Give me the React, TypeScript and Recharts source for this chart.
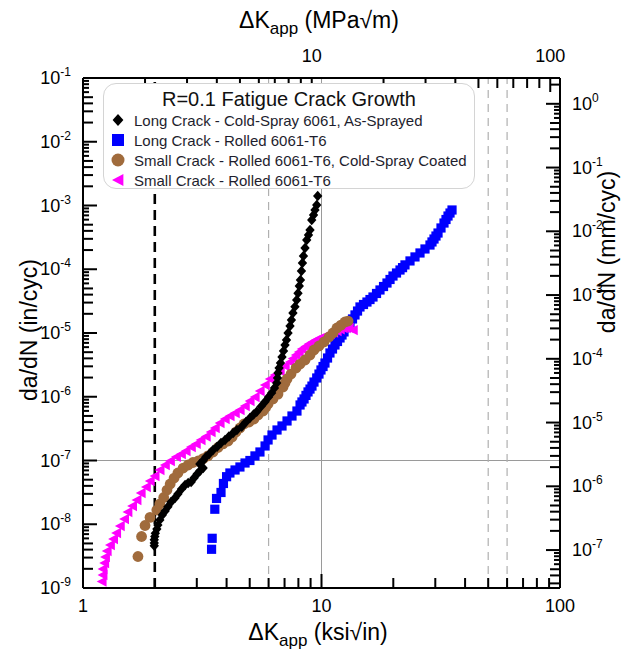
import React from "react";
import { ScatterChart, Scatter, XAxis, YAxis, ReferenceLine } from "recharts";

const FONT = "'Liberation Sans', Arial, Helvetica, sans-serif";

// [ΔK_app (ksi√in), da/dN (in/cyc)]
const longCrackColdSpray: [number, number][] = [
  [1.99, 4.6e-9], [1.99, 5.1e-9], [1.99, 5.7e-9], [2.0, 6.4e-9], [2.01, 7.2e-9], [2.04, 8.4e-9],
  [2.06, 9.7e-9], [2.1, 1.17e-8], [2.15, 1.4e-8], [2.21, 1.61e-8], [2.27, 1.88e-8], [2.34, 2.23e-8],
  [2.43, 2.58e-8], [2.5, 2.98e-8], [2.59, 3.57e-8], [2.68, 4.13e-8], [2.76, 4.44e-8], [2.84, 4.6e-8],
  [2.92, 5.31e-8], [3.01, 6.14e-8], [3.09, 6.84e-8], [3.19, 7.62e-8], [3.09, 8.81e-8], [3.19, 1.0e-7],
  [3.28, 1.14e-7], [3.38, 1.26e-7], [3.51, 1.46e-7], [3.65, 1.64e-7], [3.79, 1.88e-7], [3.94, 2.1e-7],
  [4.09, 2.38e-7], [4.26, 2.7e-7], [4.42, 3.01e-7], [4.63, 3.39e-7], [4.82, 4.02e-7], [5.01, 4.65e-7],
  [5.19, 5.27e-7], [5.35, 5.82e-7], [5.58, 7.03e-7], [5.8, 8.36e-7], [6.0, 9.91e-7], [6.18, 1.15e-6],
  [6.35, 1.37e-6], [6.49, 1.64e-6], [6.54, 1.97e-6], [6.57, 2.36e-6], [6.64, 2.82e-6], [6.73, 3.38e-6],
  [6.83, 4.2e-6], [6.93, 5.22e-6], [7.03, 6.49e-6], [7.13, 7.77e-6], [7.24, 1.0e-5], [7.38, 1.29e-5],
  [7.48, 1.6e-5], [7.59, 2.06e-5], [7.74, 2.59e-5], [7.87, 3.3e-5], [7.97, 4.2e-5], [8.07, 5.46e-5],
  [8.16, 6.78e-5], [8.24, 9.39e-5], [8.32, 1.25e-4], [8.4, 1.61e-4], [8.53, 2.15e-4], [8.67, 2.88e-4],
  [8.82, 3.44e-4], [8.95, 4.13e-4], [9.1, 5.93e-4], [9.26, 7.1e-4], [9.39, 8.5e-4], [9.55, 1.02e-3],
  [9.64, 1.41e-3],
];

const longCrackRolled: [number, number][] = [
  [3.46, 4.05e-9], [3.48, 6.02e-9], [3.57, 1.72e-8], [3.63, 2.54e-8], [3.79, 3.15e-8], [3.88, 4.36e-8],
  [4.0, 5.57e-8], [4.13, 6.37e-8], [4.34, 7.1e-8], [4.55, 7.91e-8], [4.78, 9.14e-8], [5.01, 1.0e-7],
  [5.26, 1.18e-7], [5.52, 1.36e-7], [5.8, 1.69e-7], [5.97, 2.1e-7], [6.2, 2.51e-7], [6.51, 3.01e-7],
  [6.83, 3.48e-7], [7.17, 4.17e-7], [7.52, 4.99e-7], [7.89, 5.97e-7], [8.13, 7.43e-7], [8.28, 8.28e-7],
  [8.45, 9.23e-7], [8.61, 1.05e-6], [8.78, 1.19e-6], [8.95, 1.32e-6], [9.12, 1.47e-6], [9.3, 1.7e-6],
  [9.55, 1.97e-6], [9.76, 2.27e-6], [9.95, 2.63e-6], [10.15, 2.98e-6], [10.34, 3.38e-6], [10.6, 4.05e-6],
  [10.85, 4.86e-6], [11.12, 5.61e-6], [11.39, 6.49e-6], [11.67, 7.36e-6], [11.96, 8.36e-6], [12.19, 9.3e-6],
  [12.43, 1.04e-5], [12.79, 1.22e-5], [13.17, 1.44e-5], [13.49, 1.66e-5], [13.82, 1.92e-5], [14.16, 2.21e-5],
  [14.5, 2.56e-5], [15.0, 2.8e-5], [15.51, 3.06e-5], [15.97, 3.35e-5], [16.44, 3.67e-5], [17.01, 4.17e-5],
  [17.59, 4.73e-5], [18.2, 5.36e-5], [18.82, 6.08e-5], [19.38, 6.91e-5], [19.94, 7.83e-5], [20.63, 8.73e-5],
  [21.34, 9.73e-5], [21.87, 1.06e-4], [22.39, 1.17e-4], [23.5, 1.35e-4], [24.66, 1.56e-4], [25.88, 1.8e-4],
  [27.16, 2.08e-4], [28.5, 2.4e-4], [29.06, 2.68e-4], [29.63, 2.98e-4], [30.2, 3.32e-4], [30.8, 3.7e-4],
  [31.7, 4.44e-4], [32.63, 5.31e-4], [33.27, 6.03e-4], [33.92, 6.84e-4], [34.58, 7.62e-4], [35.26, 8.5e-4],
];

const smallCrackCoated: [number, number][] = [
  [1.7, 3.12e-9], [1.76, 6.43e-9], [1.82, 9.55e-9], [1.91, 1.28e-8], [2.04, 1.67e-8], [2.1, 2.08e-8],
  [2.18, 2.63e-8], [2.25, 3.44e-8], [2.32, 4.28e-8], [2.41, 5.31e-8], [2.5, 6.37e-8], [2.63, 7.62e-8],
  [2.76, 8.5e-8], [2.89, 9.31e-8], [3.04, 9.82e-8], [3.19, 1.07e-7], [3.34, 1.18e-7], [3.51, 1.36e-7],
  [3.68, 1.6e-7], [3.86, 1.82e-7], [4.06, 2.02e-7], [4.22, 2.34e-7], [4.38, 2.8e-7], [4.55, 3.24e-7],
  [4.73, 3.74e-7], [4.97, 4.02e-7], [5.21, 4.48e-7], [5.42, 5.18e-7], [5.69, 5.97e-7], [5.83, 6.78e-7],
  [5.97, 7.69e-7], [6.26, 9.23e-7], [6.57, 1.1e-6], [6.9, 1.42e-6], [7.03, 1.64e-6], [7.17, 1.9e-6],
  [7.45, 2.27e-6], [7.82, 2.82e-6], [8.13, 3.26e-6], [8.53, 3.77e-6], [8.95, 4.52e-6], [9.3, 5.41e-6],
  [9.76, 6.25e-6], [10.24, 7.23e-6], [10.75, 8.65e-6], [11.17, 1.0e-5], [11.61, 1.2e-5], [12.07, 1.33e-5],
  [12.54, 1.49e-5], [12.92, 1.54e-5],
];

const smallCrackRolled: [number, number][] = [
  [1.2, 1.26e-9], [1.21, 1.6e-9], [1.21, 1.99e-9], [1.23, 2.47e-9], [1.24, 3.06e-9], [1.26, 3.8e-9],
  [1.3, 4.73e-9], [1.34, 5.87e-9], [1.38, 7.29e-9], [1.43, 9.39e-9], [1.49, 1.21e-8], [1.54, 1.56e-8],
  [1.61, 1.93e-8], [1.68, 2.4e-8], [1.75, 3.09e-8], [1.84, 3.84e-8], [1.91, 4.77e-8], [2.0, 5.71e-8],
  [2.1, 7.1e-8], [2.21, 8.5e-8], [2.32, 9.82e-8], [2.46, 1.14e-7], [2.58, 1.26e-7], [2.7, 1.41e-7],
  [2.84, 1.63e-7], [2.98, 1.82e-7], [3.12, 2.1e-7], [3.28, 2.38e-7], [3.44, 2.8e-7], [3.58, 3.24e-7],
  [3.75, 3.88e-7], [3.94, 4.48e-7], [4.13, 4.99e-7], [4.34, 5.56e-7], [4.55, 6.2e-7], [4.78, 7.16e-7],
  [5.01, 8.57e-7], [5.26, 9.91e-7], [5.52, 1.23e-6], [5.8, 1.53e-6], [6.08, 1.9e-6], [6.38, 2.19e-6],
  [6.7, 2.54e-6], [7.03, 3.04e-6], [7.38, 3.51e-6], [7.59, 3.98e-6], [7.82, 4.52e-6], [8.05, 5.04e-6],
  [8.28, 5.61e-6], [8.57, 6.14e-6], [8.86, 6.72e-6], [9.17, 7.23e-6], [9.48, 7.77e-6], [9.81, 8.2e-6],
  [10.15, 8.65e-6], [10.49, 9.14e-6], [10.85, 9.64e-6], [11.23, 1.02e-5], [11.61, 1.07e-5], [11.96, 1.14e-5],
  [12.31, 1.2e-5], [12.67, 1.2e-5], [13.04, 1.2e-5], [13.56, 1.11e-5],
];

const LEGEND_TITLE = "R=0.1 Fatigue Crack Growth";
const SERIES_NAMES = [
  "Long Crack - Cold-Spray 6061, As-Sprayed",
  "Long Crack - Rolled 6061-T6",
  "Small Crack - Rolled 6061-T6, Cold-Spray Coated",
  "Small Crack - Rolled 6061-T6",
];
const COLORS = ["#000000", "#0000ff", "#a06b3c", "#ff00ff"];

const KSI_DOMAIN: [number, number] = [1, 100];
const RATE_DOMAIN: [number, number] = [1e-9, 1e-1];
const KSI_TO_MPA = 1.0988;
const IN_TO_MM = 25.4;
const GREY_DASHED_K = [6, 50, 60];

// every 1..9 x 10^n value inside [lo, hi]
const logTicks = (lo: number, hi: number) => {
  const out: number[] = [];
  for (let e = Math.floor(Math.log10(lo)); e <= Math.ceil(Math.log10(hi)); e++) {
    for (let m = 1; m < 10; m++) {
      const v = m * Math.pow(10, e);
      if (v >= lo * 0.999 && v <= hi * 1.001) out.push(v);
    }
  }
  return out;
};

const expOf = (v: number) => Math.floor(Math.log10(v) + 1e-9);
const mantOf = (v: number) => Math.round(v / Math.pow(10, expOf(v)));
const isDecade = (v: number) => mantOf(v) === 1;

const KSI_TICKS = logTicks(KSI_DOMAIN[0], KSI_DOMAIN[1]);
const MPA_TICKS = logTicks(KSI_DOMAIN[0] * KSI_TO_MPA, KSI_DOMAIN[1] * KSI_TO_MPA);
const IN_TICKS = logTicks(RATE_DOMAIN[0], RATE_DOMAIN[1]);
const MM_TICKS = logTicks(RATE_DOMAIN[0] * IN_TO_MM, RATE_DOMAIN[1] * IN_TO_MM);

const toPoints = (rows: [number, number][]) => rows.map(([k, r]) => ({ k, r }));

const xTickLen = (v: number) => (isDecade(v) ? 14 : 10);
const yTickLen = (v: number) => {
  const m = mantOf(v);
  return m === 1 ? 14 : m <= 5 ? 10 : 6;
};
const TW = 2;

// tick marks sit on the frame edges, in data units, and point inward
const bottomTicks = KSI_TICKS.map((k) => ({ k, r: RATE_DOMAIN[0], len: xTickLen(k), side: "b" }));
const topTicks = MPA_TICKS.map((m) => ({ k: m / KSI_TO_MPA, r: RATE_DOMAIN[1], len: xTickLen(m), side: "t" }));
const leftTicks = IN_TICKS.map((r) => ({ k: KSI_DOMAIN[0], r, len: yTickLen(r), side: "l" }));
const rightTicks = MM_TICKS.map((mm) => ({ k: KSI_DOMAIN[1], r: mm / IN_TO_MM, len: yTickLen(mm), side: "r" }));
const TICK_MARKS = [...bottomTicks, ...topTicks, ...leftTicks, ...rightTicks];

const TickMark = ({ cx, cy, payload }: any) => {
  const { len, side } = payload;
  if (side === "b") return <rect x={cx - TW / 2} y={cy - len} width={TW} height={len} fill="#000" />;
  if (side === "t") return <rect x={cx - TW / 2} y={cy} width={TW} height={len} fill="#000" />;
  if (side === "l") return <rect x={cx} y={cy - TW / 2} width={len} height={TW} fill="#000" />;
  return <rect x={cx - len} y={cy - TW / 2} width={len} height={TW} fill="#000" />;
};

const Pow10 = ({ x, y, e, anchor }: any) => (
  <text x={x} y={y} textAnchor={anchor} fontFamily={FONT} fontSize={18} fill="#000">
    <tspan>10</tspan>
    <tspan dy={-8} fontSize={12}>{e}</tspan>
  </text>
);

// tick labels for the ksi / in axes
const LeftLabel = (p: any) => <Pow10 x={p.x - 12} y={p.y + 6} e={expOf(p.payload.value)} anchor="end" />;
const BottomLabel = (p: any) => (
  <text x={p.x} y={p.y + 24} textAnchor="middle" fontFamily={FONT} fontSize={18} fill="#000">
    {Math.round(p.payload.value)}
  </text>
);

// MPa√m and mm/cyc labels, placed from the reference line's pixel ends
const topLabel = (v: number) => (p: any) => (
  <text x={p.x1} y={Math.min(p.y1, p.y2) - 16} textAnchor="middle" fontFamily={FONT} fontSize={18} fill="#000">
    {Math.round(v)}
  </text>
);
const rightLabel = (v: number) => (p: any) => (
  <Pow10 x={Math.max(p.x1, p.x2) + 12} y={p.y1 + 6} e={expOf(v)} anchor="start" />
);

const DeltaK = ({ x, y, unit }: any) => (
  <text x={x} y={y} textAnchor="middle" fontFamily={FONT} fontSize={23} fill="#000">
    <tspan>ΔK</tspan>
    <tspan dy={6} fontSize={17}>app</tspan>
    <tspan dy={-6}>{` (${unit})`}</tspan>
  </text>
);

const RateTitle = ({ cx, cy, unit }: any) => (
  <text
    x={cx}
    y={cy + 8}
    transform={`rotate(-90, ${cx}, ${cy})`}
    textAnchor="middle"
    fontFamily={FONT}
    fontSize={23}
    fill="#000"
  >
    {`da/dN (${unit})`}
  </text>
);

const Diamond = ({ cx, cy, size = 5.2, fill }: any) => (
  <path d={`M${cx},${cy - size} L${cx + size * 0.9},${cy} L${cx},${cy + size} L${cx - size * 0.9},${cy} Z`} fill={fill} />
);
const Square = ({ cx, cy, size = 4.6, fill }: any) => (
  <rect x={cx - size} y={cy - size} width={size * 2} height={size * 2} fill={fill} />
);
const Dot = ({ cx, cy, size = 5.4, fill }: any) => <circle cx={cx} cy={cy} r={size} fill={fill} />;
const LeftTriangle = ({ cx, cy, size = 5.2, fill }: any) => (
  <path d={`M${cx - size},${cy} L${cx + size * 0.9},${cy - size} L${cx + size * 0.9},${cy + size} Z`} fill={fill} />
);

const MARKERS = [Diamond, Square, Dot, LeftTriangle];

const FrameLegend = () => (
  <div
    style={{
      position: "absolute",
      left: 103,
      top: 83,
      width: 372,
      height: 106,
      border: "1px solid #d4d4d4",
      borderRadius: 13,
      background: "#fff",
      fontFamily: FONT,
      boxSizing: "border-box",
    }}
  >
    <div style={{ position: "absolute", left: 0, right: 0, top: 3, textAlign: "center", fontSize: 20, lineHeight: "24px", color: "#111" }}>
      {LEGEND_TITLE}
    </div>
    {SERIES_NAMES.map((name, i) => {
      const M = MARKERS[i];
      return (
        <div key={name} style={{ position: "absolute", left: 5, top: 26 + i * 20, height: 20, display: "flex", alignItems: "center" }}>
          <svg width={18} height={18} style={{ marginRight: 7 }}>
            <M cx={9} cy={9} size={i === 2 ? 6.5 : 6} fill={COLORS[i]} />
          </svg>
          <span style={{ fontSize: 15, color: "#1e1e2e", whiteSpace: "nowrap" }}>{name}</span>
        </div>
      );
    })}
  </div>
);

const SERIES = [longCrackRolled, smallCrackRolled, smallCrackCoated, longCrackColdSpray];
const SERIES_INDEX = [1, 3, 2, 0];

const axisLine = { stroke: "#000", strokeWidth: 2 };
const logAxis = {
  type: "number" as const,
  scale: "log" as const,
  allowDataOverflow: true,
  interval: 0 as const,
  tickLine: false,
  tickSize: 0,
  tickMargin: 0,
  axisLine,
};

export default function App() {
  return (
    <div style={{ position: "absolute", left: 0, top: 0, width: 628, height: 652, background: "#fff" }}>
      <ScatterChart width={628} height={652} margin={{ top: 0, right: 0, bottom: 0, left: 0 }}>
        <XAxis
          {...logAxis}
          xAxisId="ksi"
          dataKey="k"
          domain={KSI_DOMAIN}
          ticks={KSI_TICKS.filter(isDecade)}
          tick={<BottomLabel />}
          height={64}
          label={{ content: () => <DeltaK x={318} y={640} unit="ksi√in" /> }}
        />
        <XAxis
          {...logAxis}
          xAxisId="mpa"
          orientation="top"
          domain={KSI_DOMAIN}
          tick={false}
          height={78}
          label={{ content: () => <DeltaK x={319} y={28} unit="MPa√m" /> }}
        />
        <YAxis
          {...logAxis}
          yAxisId="in"
          dataKey="r"
          domain={RATE_DOMAIN}
          ticks={IN_TICKS.filter(isDecade)}
          tick={<LeftLabel />}
          width={83}
          label={{ content: () => <RateTitle cx={29} cy={330} unit="in/cyc" /> }}
        />
        <YAxis
          {...logAxis}
          yAxisId="mm"
          orientation="right"
          domain={RATE_DOMAIN}
          tick={false}
          width={68}
          label={{ content: () => <RateTitle cx={607} cy={252} unit="mm/cyc" /> }}
        />

        <ReferenceLine xAxisId="ksi" yAxisId="in" x={10} stroke="#9a9a9a" strokeWidth={1} />
        <ReferenceLine xAxisId="ksi" yAxisId="in" y={1e-7} stroke="#9a9a9a" strokeWidth={1} />
        {GREY_DASHED_K.map((k) => (
          <ReferenceLine key={`g${k}`} xAxisId="ksi" yAxisId="in" x={k} stroke="#b0b0b0" strokeWidth={1.2} strokeDasharray="8 6" />
        ))}
        <ReferenceLine xAxisId="ksi" yAxisId="in" x={2} stroke="#000" strokeWidth={2.6} strokeDasharray="10 6" />

        {MPA_TICKS.filter(isDecade).map((m) => (
          <ReferenceLine key={`t${m}`} xAxisId="ksi" yAxisId="in" x={m / KSI_TO_MPA} ifOverflow="visible" shape={topLabel(m)} />
        ))}
        {MM_TICKS.filter(isDecade).map((mm) => (
          <ReferenceLine key={`r${mm}`} xAxisId="ksi" yAxisId="in" y={mm / IN_TO_MM} ifOverflow="visible" shape={rightLabel(mm)} />
        ))}

        <Scatter
          name="frame ticks"
          xAxisId="ksi"
          yAxisId="in"
          data={TICK_MARKS}
          isAnimationActive={false}
          shape={(p: any) => <TickMark {...p} />}
          legendType="none"
        />

        {SERIES.map((rows, j) => {
          const i = SERIES_INDEX[j];
          const M = MARKERS[i];
          return (
            <Scatter
              key={SERIES_NAMES[i]}
              name={SERIES_NAMES[i]}
              xAxisId="ksi"
              yAxisId="in"
              data={toPoints(rows)}
              fill={COLORS[i]}
              isAnimationActive={false}
              shape={(p: any) => <M cx={p.cx} cy={p.cy} fill={COLORS[i]} />}
            />
          );
        })}
      </ScatterChart>
      <FrameLegend />
    </div>
  );
}
